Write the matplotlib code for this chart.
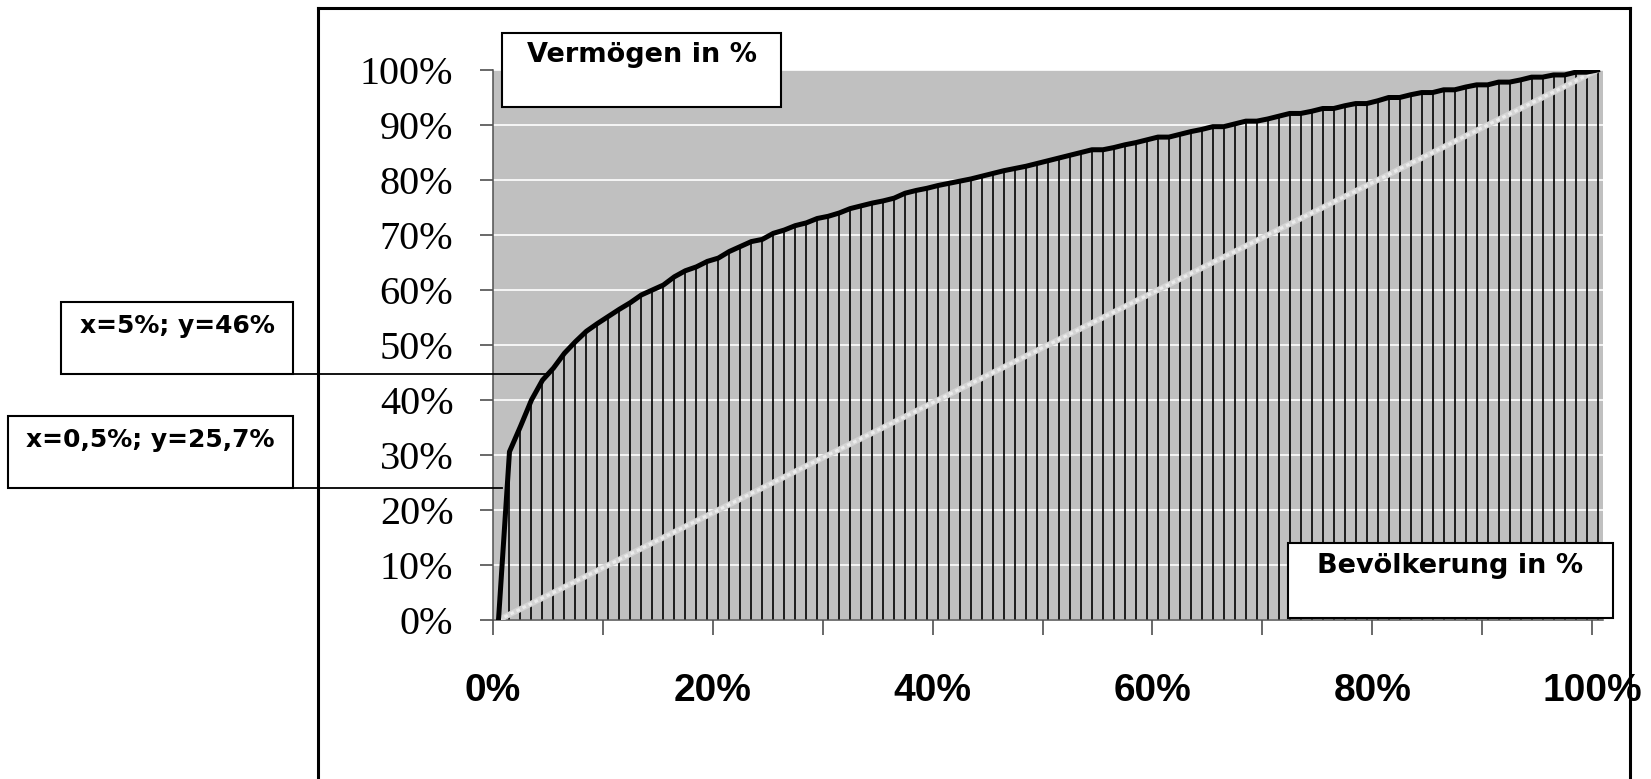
import matplotlib.pyplot as plt
from matplotlib.lines import Line2D
from matplotlib.patches import Rectangle

# Bevölkerung (Kategorien 0..100 %) und kumulierter Vermögensanteil in %
population = list(range(101))
wealth = [0, 30.6, 35.2, 40.0, 43.6, 45.8, 48.5, 50.6, 52.5, 53.9,
          55.2, 56.5, 57.7, 59.1, 60.0, 60.9, 62.4, 63.5, 64.2, 65.2,
          65.8, 67.0, 67.9, 68.8, 69.2, 70.3, 70.9, 71.7, 72.2, 73.0,
          73.4, 74.0, 74.8, 75.3, 75.8, 76.2, 76.7, 77.6, 78.1, 78.5,
          79.0, 79.4, 79.8, 80.2, 80.7, 81.2, 81.7, 82.1, 82.5, 83.0,
          83.5, 84.0, 84.5, 85.0, 85.5, 85.5, 85.9, 86.4, 86.8, 87.3,
          87.8, 87.8, 88.3, 88.8, 89.2, 89.7, 89.7, 90.2, 90.7, 90.7,
          91.1, 91.6, 92.1, 92.1, 92.5, 93.0, 93.0, 93.5, 93.9, 93.9,
          94.4, 95.0, 95.0, 95.5, 95.9, 95.9, 96.4, 96.4, 96.9, 97.3,
          97.3, 97.8, 97.8, 98.2, 98.7, 98.7, 99.1, 99.1, 99.6, 99.6,
          100.0]
equality = population

y_ticks = [0, 10, 20, 30, 40, 50, 60, 70, 80, 90, 100]
x_labels = ['0%', '', '20%', '', '40%', '', '60%', '', '80%', '', '100%']

W, H = 1651, 779


def fx(x):
    return x / W


def fy(y):
    return 1 - y / H


fig = plt.figure(figsize=(W / 100, H / 100), dpi=100)
ax = fig.add_axes([fx(493), fy(620), fx(1603) - fx(493), fy(70) - fy(620)])
ax.set_facecolor('#c0c0c0')

ax.vlines(population, 0, wealth, colors='black', lw=1.2, zorder=2)
# Gleichverteilungsgerade: hellgrauer Streifen mit feiner Schraffur
ax.plot(population, equality, color='#d4d4d4', lw=4.2, zorder=3, solid_capstyle='butt')
ax.plot(population, equality, color='#ececec', lw=2.2, zorder=3, dashes=(1.2, 1.0))
ax.plot(population, wealth, color='black', lw=3.6, zorder=4, solid_joinstyle='round')

ax.set_xlim(-0.5, 100.5)
ax.set_ylim(0, 100)
ax.set_yticks(y_ticks)
ax.set_yticklabels([f'{v}%' for v in y_ticks], family='Liberation Serif', fontsize=29)
ax.set_xticks([p - 0.5 for p in range(0, 101, 10)])
ax.set_xticklabels(x_labels, family='Liberation Sans', fontweight='bold', fontsize=28)
ax.tick_params(axis='y', length=9.5, width=1.1, color='#404040', pad=19)
ax.tick_params(axis='x', length=11, width=1.1, color='#404040', pad=27)
ax.grid(axis='y', color='white', lw=1.2)
ax.set_axisbelow(True)
for s in ['top', 'right']:
    ax.spines[s].set_visible(False)
for s in ['left', 'bottom']:
    ax.spines[s].set_color('#505050')
    ax.spines[s].set_linewidth(1.1)

# outer frame
for xs, ys in [([318, 318], [8, 779]), ([318, 1630], [8, 8]), ([1630, 1630], [8, 779])]:
    fig.add_artist(Line2D([fx(v) for v in xs], [fy(v) for v in ys], color='black', lw=2.2))

# leader lines from the boxes to the curve
fig.add_artist(Line2D([fx(61), fx(547)], [fy(374), fy(374)], color='black', lw=1.3, zorder=5))
fig.add_artist(Line2D([fx(8), fx(502)], [fy(488), fy(488)], color='black', lw=1.3, zorder=5))


def label_box(x0, y0, x1, y1, text, ty, size):
    fig.add_artist(Rectangle((fx(x0), fy(y1)), fx(x1) - fx(x0), fy(y0) - fy(y1),
                             facecolor='white', edgecolor='black', lw=1.5, zorder=6))
    fig.text(fx((x0 + x1) / 2), fy(ty), text, ha='center', va='center',
             family='DejaVu Sans', fontweight='bold', fontsize=size, zorder=7)


label_box(502, 33, 781, 107, 'Vermögen in %', 55, 19.5)
label_box(61, 302, 293, 374, 'x=5%; y=46%', 326, 18)
label_box(8, 416, 293, 488, 'x=0,5%; y=25,7%', 440, 18)
label_box(1288, 543, 1613, 618, 'Bevölkerung in %', 566, 19.5)

fig.savefig('out.png', dpi=100)
